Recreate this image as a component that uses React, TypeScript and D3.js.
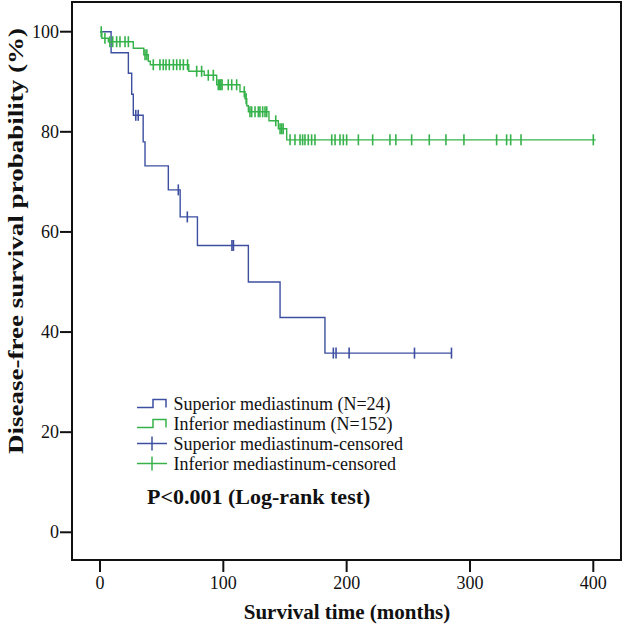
import React from "react";
import * as d3 from "d3";

// ---- Data ----
const superiorEventTimes = [0, 9, 23, 25.7, 27, 35, 36.5, 55.4, 65, 79, 120.3, 146, 182.4];
const superiorSurvival = [100, 95.8, 91.7, 87.5, 83.3, 78.0, 73.2, 68.4, 63.0, 57.3, 50.0, 42.9, 35.8];
const superiorEndTime = 285;
const superiorCensored = [29, 31, 63.5, 70.8, 107, 108.2, 189.2, 191.4, 202, 255, 285];

const inferiorEventTimes = [0, 1.5, 6.8, 27, 35.5, 39.2, 40.8, 72, 84.5, 94.6, 113.5, 117.6, 119, 120.3, 137, 144.6, 151.4];
const inferiorSurvival = [100, 98.7, 98.0, 96.7, 95.4, 94.1, 93.4, 92.1, 91.3, 89.4, 88.0, 86.6, 85.2, 84.0, 82.2, 80.6, 78.4];
const inferiorEndTime = 402;
const inferiorCensored = [
  1, 4, 8, 10.3, 13.5, 16.2, 20.3, 23, 36.5, 38, 43.2, 48.6, 51.3, 53.5, 56.2, 59.5, 62.2, 64.9, 67.6, 71,
  78.4, 82.4, 87.8, 91.9, 95.9, 97, 98, 99, 104, 106.8, 110.8, 117, 118.5, 121.6, 123, 125.7, 128.4, 129.7,
  131.9, 133.8, 135.2, 142.5, 146, 147.3, 148.5, 154.1, 158.1, 162.2, 164.3, 166.2, 168.9, 171.6, 174.3,
  187.9, 190.6, 194.6, 197.3, 200, 209.5, 221.1, 235.1, 239.9, 252.7, 267, 280.5, 295.1, 321.6, 329.7, 333,
  341.4, 400,
];

const xTicks = [0, 100, 200, 300, 400];
const yTicks = [0, 20, 40, 60, 80, 100];

const legendLabels = [
  "Superior mediastinum (N=24)",
  "Inferior mediastinum (N=152)",
  "Superior mediastinum-censored",
  "Inferior mediastinum-censored",
];
const pText = "P<0.001 (Log-rank test)";
const xTitle = "Survival time (months)";
const yTitle = "Disease-free survival probability (%)";

// ---- Styles ----
const BLUE = "#3D4FA1";
const GREEN = "#36B24A";
const FONT = "'Liberation Serif', 'Times New Roman', serif";

const W = 624;
const H = 627;
const frame = { left: 72, right: 621, top: 2, bottom: 560 };

const x = d3.scaleLinear().domain([0, 400]).range([100, 593.3]);
const y = d3.scaleLinear().domain([0, 100]).range([532.3, 31.7]);

function stepPath(times: number[], surv: number[], end: number) {
  const pts: [number, number][] = times.map((t, i) => [t, surv[i]]);
  pts.push([end, surv[surv.length - 1]]);
  return d3
    .line<[number, number]>()
    .x((d) => x(d[0]))
    .y((d) => y(d[1]))
    .curve(d3.curveStepAfter)(pts) as string;
}

function survAt(times: number[], surv: number[], t: number) {
  const i = d3.bisectRight(times, t) - 1;
  return surv[Math.max(0, i)];
}

export default function App() {
  const tick = 5.5;
  const legendX = 137;
  const legendY0 = 403.5;
  const legendDy = 20;
  const colors = [BLUE, GREEN, BLUE, GREEN];
  return (
    <svg
      width={W}
      height={H}
      style={{ position: "absolute", left: 0, top: 0, background: "#fff" }}
      fontFamily={FONT}
    >
      <rect x={0} y={0} width={W} height={H} fill="#fff" />
      {/* frame */}
      <rect
        x={frame.left}
        y={frame.top}
        width={frame.right - frame.left}
        height={frame.bottom - frame.top}
        fill="none"
        stroke="#111"
        strokeWidth={2}
      />
      {/* x axis ticks */}
      {xTicks.map((t) => (
        <g key={"xt" + t}>
          <line x1={x(t)} x2={x(t)} y1={frame.bottom} y2={frame.bottom + 12} stroke="#111" strokeWidth={2} />
          <text x={x(t)} y={589} fontSize={18} textAnchor="middle" fill="#111">
            {t}
          </text>
        </g>
      ))}
      {/* y axis ticks */}
      {yTicks.map((v) => (
        <g key={"yt" + v}>
          <line x1={frame.left - 12} x2={frame.left} y1={y(v)} y2={y(v)} stroke="#111" strokeWidth={2} />
          <text x={59} y={y(v) + 6} fontSize={18} textAnchor="end" fill="#111">
            {v}
          </text>
        </g>
      ))}
      {/* titles */}
      <text x={347} y={619} fontSize={21} fontWeight="bold" textAnchor="middle" fill="#111">
        {xTitle}
      </text>
      <text
        transform={`translate(23, 241) rotate(-90)`}
        fontSize={22}
        fontWeight="bold"
        textAnchor="middle"
        textLength={426}
        lengthAdjust="spacingAndGlyphs"
        fill="#111"
      >
        {yTitle}
      </text>

      {/* curves */}
      <path d={stepPath(superiorEventTimes, superiorSurvival, superiorEndTime)} fill="none" stroke={BLUE} strokeWidth={1.4} />
      <path d={stepPath(inferiorEventTimes, inferiorSurvival, inferiorEndTime)} fill="none" stroke={GREEN} strokeWidth={1.4} />
      {superiorCensored.map((t, i) => {
        const yy = y(survAt(superiorEventTimes, superiorSurvival, t));
        return <line key={"sc" + i} x1={x(t)} x2={x(t)} y1={yy - tick} y2={yy + tick} stroke={BLUE} strokeWidth={1.6} />;
      })}
      {inferiorCensored.map((t, i) => {
        const yy = y(survAt(inferiorEventTimes, inferiorSurvival, t));
        return <line key={"ic" + i} x1={x(t)} x2={x(t)} y1={yy - tick} y2={yy + tick} stroke={GREEN} strokeWidth={1.6} />;
      })}

      {/* legend */}
      {legendLabels.map((label, i) => {
        const cy = legendY0 + i * legendDy;
        const c = colors[i];
        return (
          <g key={"lg" + i}>
            {i < 2 ? (
              <path
                d={`M${legendX},${cy + 4}H${legendX + 16}V${cy - 4}H${legendX + 29}V${cy + 4}`}
                fill="none"
                stroke={c}
                strokeWidth={1.5}
              />
            ) : (
              <g>
                <line x1={legendX} x2={legendX + 30} y1={cy} y2={cy} stroke={c} strokeWidth={1.5} />
                <line x1={legendX + 15} x2={legendX + 15} y1={cy - 7} y2={cy + 7} stroke={c} strokeWidth={1.5} />
              </g>
            )}
            <text x={173.5} y={cy + 6} fontSize={18} fill="#111">
              {label}
            </text>
          </g>
        );
      })}
      <text x={147} y={504} fontSize={22} fontWeight="bold" fill="#111">
        {pText}
      </text>
    </svg>
  );
}
